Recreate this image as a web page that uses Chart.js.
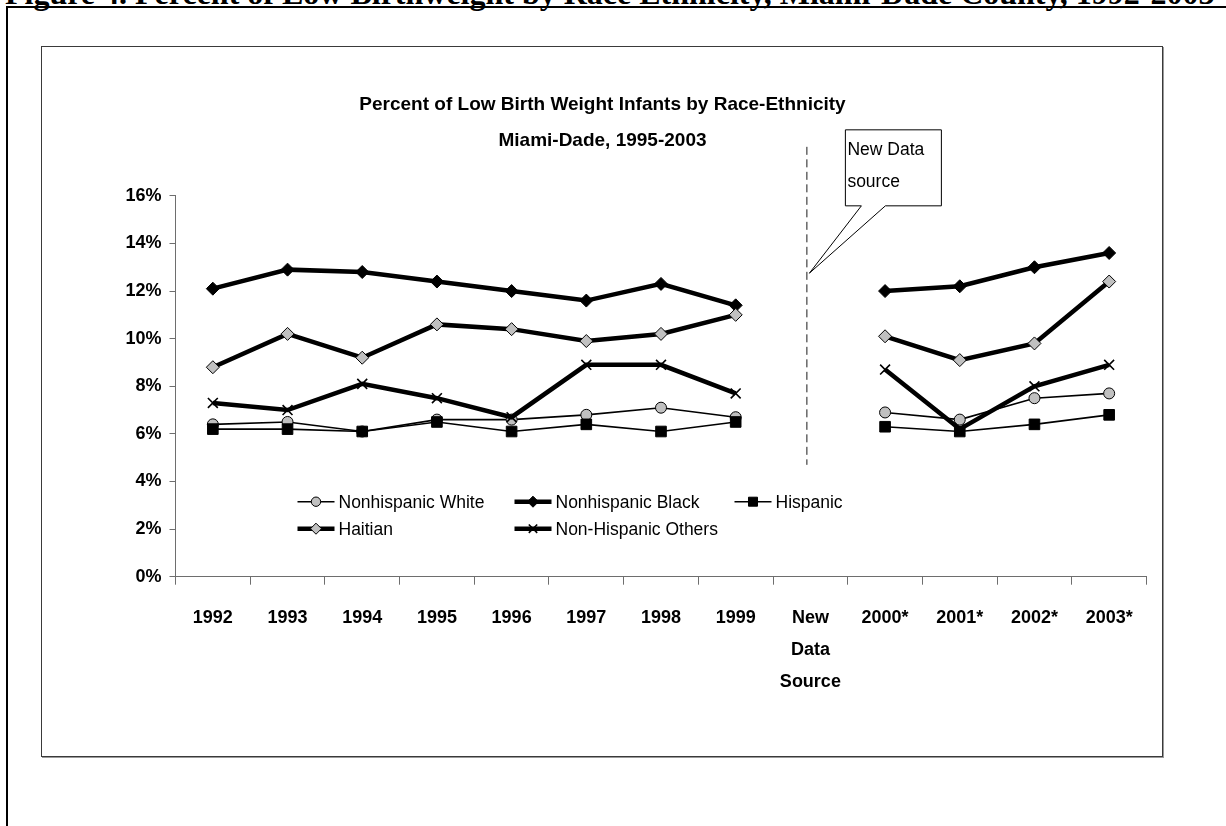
<!DOCTYPE html>
<html>
<head>
<meta charset="utf-8">
<title>Low Birth Weight by Race-Ethnicity, Miami-Dade</title>
<script src="https://cdn.jsdelivr.net/npm/chart.js@4.4.1/dist/chart.umd.min.js"></script>
<style>
  html, body { margin: 0; padding: 0; background: #fff; }
  body { width: 1226px; height: 826px; position: relative; overflow: hidden; }
  #figcap {
    position: absolute; left: 5px; top: -25px; white-space: nowrap;
    font: bold 32px "Liberation Serif", "Times New Roman", serif; line-height: 36px; color: #000;
  }
  #frame {
    position: absolute; left: 6px; top: 6px; right: -10px; bottom: -10px;
    border-left: 2px solid #000; border-top: 2px solid #000;
  }
  #panel {
    position: absolute; left: 41px; top: 46px; width: 1120px; height: 709px;
    border: 1px solid #3a3a3a; box-shadow: 1px 1px 0 #9a9a9a; background: #fff;
  }
  #wrap { position: absolute; left: 0; top: 0; width: 1226px; height: 826px; }
</style>
</head>
<body>
<div id="figcap">Figure 4. Percent of Low Birthweight by Race Ethnicity, Miami-Dade County, 1992-2003</div>
<div id="frame"></div>
<div id="panel"></div>
<div id="wrap"><canvas id="lbw"></canvas></div>
<script>
// Year categories; the gap column marks the switch to the new data source.
const categories = ['1992', '1993', '1994', '1995', '1996', '1997', '1998', '1999',
  ['New', 'Data', 'Source'], '2000*', '2001*', '2002*', '2003*'];

// Percent of low birth weight infants per group (null = no value for the gap column).
const nonhispanicWhite  = [6.4, 6.5, 6.1, 6.6, 6.6, 6.8, 7.1, 6.7, null, 6.9, 6.6, 7.5, 7.7];
const nonhispanicBlack  = [12.1, 12.9, 12.8, 12.4, 12.0, 11.6, 12.3, 11.4, null, 12.0, 12.2, 13.0, 13.6];
const hispanic          = [6.2, 6.2, 6.1, 6.5, 6.1, 6.4, 6.1, 6.5, null, 6.3, 6.1, 6.4, 6.8];
const haitian           = [8.8, 10.2, 9.2, 10.6, 10.4, 9.9, 10.2, 11.0, null, 10.1, 9.1, 9.8, 12.4];
const nonHispanicOthers = [7.3, 7.0, 8.1, 7.5, 6.7, 8.9, 8.9, 7.7, null, 8.7, 6.2, 8.0, 8.9];

const seriesNames = ['Nonhispanic White', 'Nonhispanic Black', 'Hispanic', 'Haitian', 'Non-Hispanic Others'];
const yTickValues = [0, 2, 4, 6, 8, 10, 12, 14, 16];
const chartTitle = ['Percent of Low Birth Weight Infants by Race-Ethnicity', 'Miami-Dade, 1995-2003'];
const calloutLines = ['New Data', 'source'];
const breakIndex = 8;

const SANS = "'Liberation Sans', Arial, Helvetica, sans-serif";
const GRAY = '#c0c0c0';
const AXIS = '#6e6e6e';

function series(label, data, style) {
  return Object.assign({
    label, data,
    borderColor: '#000',
    pointBorderColor: '#000',
    pointBorderWidth: 1,
    tension: 0,
    fill: false,
    spanGaps: false,
    pointHoverRadius: 0
  }, style);
}

const datasets = [
  series(seriesNames[0], nonhispanicWhite,  { borderWidth: 1.6, pointStyle: 'circle',  pointRadius: 5.5, pointBackgroundColor: GRAY, order: 5 }),
  series(seriesNames[1], nonhispanicBlack,  { borderWidth: 4.5, pointStyle: 'rectRot', pointRadius: 6.5, pointBackgroundColor: '#000', order: 4 }),
  series(seriesNames[2], hispanic,          { borderWidth: 1.6, pointStyle: 'rect',    pointRadius: 7.5, pointBackgroundColor: '#000', order: 3 }),
  series(seriesNames[3], haitian,           { borderWidth: 4.5, pointStyle: 'rectRot', pointRadius: 6.5, pointBackgroundColor: GRAY, order: 2 }),
  series(seriesNames[4], nonHispanicOthers, { borderWidth: 4.5, pointStyle: 'crossRot', pointRadius: 7, pointBorderWidth: 1.6, pointBackgroundColor: '#000', order: 1 })
];

// Marker shapes for the legend samples.
function marker(ctx, style, r, x, y) {
  ctx.beginPath();
  if (style === 'circle') {
    ctx.arc(x, y, r, 0, Math.PI * 2);
    ctx.fill(); ctx.stroke();
  } else if (style === 'rectRot') {
    ctx.moveTo(x - r, y); ctx.lineTo(x, y - r); ctx.lineTo(x + r, y); ctx.lineTo(x, y + r);
    ctx.closePath(); ctx.fill(); ctx.stroke();
  } else if (style === 'rect') {
    const h = r * Math.SQRT1_2;
    ctx.rect(x - h, y - h, 2 * h, 2 * h);
    ctx.fill(); ctx.stroke();
  } else if (style === 'crossRot') {
    const d = r * Math.SQRT1_2;
    ctx.moveTo(x - d, y - d); ctx.lineTo(x + d, y + d);
    ctx.moveTo(x + d, y - d); ctx.lineTo(x - d, y + d);
    ctx.stroke();
  }
}

// Two-row legend laid out in columns inside the plot area.
const legendSlots = [[0, 0], [1, 0], [2, 0], [0, 1], [1, 1]];
const gridLegend = {
  id: 'gridLegend',
  afterDraw(chart) {
    const ctx = chart.ctx;
    const area = chart.chartArea;
    const colX = [area.left + 122, area.left + 339, area.left + 559];
    const rowY = [area.bottom - 75, area.bottom - 48];
    ctx.save();
    ctx.font = '17.5px ' + SANS;
    ctx.textBaseline = 'middle';
    ctx.textAlign = 'left';
    chart.data.datasets.forEach((ds, i) => {
      const [c, r] = legendSlots[i];
      const x = colX[c], y = rowY[r];
      ctx.strokeStyle = '#000';
      ctx.lineWidth = ds.borderWidth;
      ctx.setLineDash([]);
      ctx.beginPath(); ctx.moveTo(x, y); ctx.lineTo(x + 37, y); ctx.stroke();
      ctx.fillStyle = ds.pointBackgroundColor;
      ctx.strokeStyle = ds.pointBorderColor;
      ctx.lineWidth = ds.pointBorderWidth;
      marker(ctx, ds.pointStyle, ds.pointRadius * 0.85, x + 18.5, y);
      ctx.fillStyle = '#000';
      ctx.fillText(ds.label, x + 41, y + 1);
    });
    ctx.restore();
  }
};

// Dashed separator at the data-source break and its callout.
const sourceBreak = {
  id: 'sourceBreak',
  afterDraw(chart) {
    const ctx = chart.ctx;
    const xs = chart.scales.x, ys = chart.scales.y;
    const area = chart.chartArea;
    const cx = xs.getPixelForValue(breakIndex) - 4;
    ctx.save();
    ctx.strokeStyle = '#1a1a1a';
    ctx.lineWidth = 1;
    ctx.setLineDash([8, 4.5]);
    ctx.beginPath();
    ctx.moveTo(cx + 0.5, area.top - 49);
    ctx.lineTo(cx + 0.5, ys.getPixelForValue(4.7));
    ctx.stroke();
    ctx.setLineDash([]);

    const left = cx + 39, right = cx + 135, top = area.top - 66, bottom = area.top + 10;
    const tipX = cx + 3, tipY = ys.getPixelForValue(12.75);
    ctx.beginPath();
    ctx.moveTo(left, top);
    ctx.lineTo(right, top);
    ctx.lineTo(right, bottom);
    ctx.lineTo(cx + 79, bottom);
    ctx.lineTo(tipX, tipY);
    ctx.lineTo(cx + 55, bottom);
    ctx.lineTo(left, bottom);
    ctx.closePath();
    ctx.fillStyle = '#fff';
    ctx.fill();
    ctx.strokeStyle = '#000';
    ctx.stroke();

    ctx.fillStyle = '#000';
    ctx.font = '17.5px ' + SANS;
    ctx.textAlign = 'left';
    ctx.textBaseline = 'middle';
    calloutLines.forEach((t, i) => ctx.fillText(t, left + 2, top + 20 + i * 32));
    ctx.restore();
  }
};

new Chart(document.getElementById('lbw'), {
  type: 'line',
  data: { labels: categories, datasets },
  plugins: [gridLegend, sourceBreak],
  options: {
    responsive: true,
    maintainAspectRatio: false,
    animation: false,
    events: [],
    layout: { padding: { left: 58.5, right: 79.5, top: 0, bottom: 0 } },
    plugins: {
      legend: { display: false },
      tooltip: { enabled: false },
      title: {
        display: true,
        text: chartTitle,
        color: '#000',
        font: { family: SANS, size: 19, weight: 'bold', lineHeight: 1.88 },
        padding: { top: 87.2, bottom: 37.2 }
      }
    },
    scales: {
      x: {
        type: 'category',
        offset: true,
        grid: { offset: true, drawOnChartArea: false, drawTicks: true, tickLength: 8, color: AXIS },
        border: { display: true, color: AXIS, width: 1 },
        ticks: {
          color: '#000', padding: 17, autoSkip: false, maxRotation: 0, minRotation: 0,
          font: { family: SANS, size: 18, weight: 'bold', lineHeight: 1.78 }
        },
        afterFit(s) { s.height = 249.3; }
      },
      y: {
        min: 0, max: 16,
        grid: { drawOnChartArea: false, drawTicks: true, tickLength: 6, color: AXIS },
        border: { display: true, color: AXIS, width: 1 },
        afterBuildTicks(s) { s.ticks = yTickValues.map(v => ({ value: v })); },
        ticks: {
          color: '#000', padding: 8,
          font: { family: SANS, size: 18, weight: 'bold' },
          callback: v => v + '%'
        },
        afterFit(s) { s.width = 117; }
      }
    }
  }
});
</script>
</body>
</html>
